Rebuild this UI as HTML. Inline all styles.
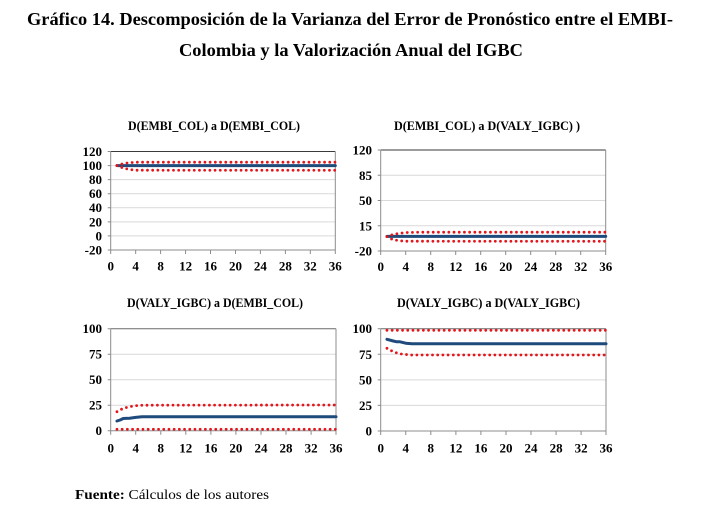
<!DOCTYPE html>
<html>
<head>
<meta charset="utf-8">
<style>
html,body{margin:0;padding:0;background:#fff;}
svg{display:block;}
text{font-family:"Liberation Serif","Times New Roman",serif;fill:#000;}
.t{font-weight:bold;font-size:18px;}
.ct{font-weight:bold;font-size:12.5px;}
.tk{font-weight:bold;font-size:13px;}
.g{stroke:#d9d9d9;stroke-width:1;fill:none;}
.ax{stroke:#8c8c8c;stroke-width:1;fill:none;}
.b{stroke:#1f4a7c;stroke-width:3;fill:none;stroke-linejoin:round;stroke-linecap:round;}
.r{stroke:#e3161c;stroke-width:2.8;fill:none;stroke-dasharray:0 5.2;stroke-linecap:round;}
</style>
</head>
<body>
<svg width="704" height="521" viewBox="0 0 704 521" xmlns="http://www.w3.org/2000/svg">
<!-- Title -->
<text class="t" x="350" y="25" text-anchor="middle" textLength="646" lengthAdjust="spacingAndGlyphs">Gráfico 14. Descomposición de la Varianza del Error de Pronóstico entre el EMBI-</text>
<text class="t" x="351" y="56" text-anchor="middle" textLength="344" lengthAdjust="spacingAndGlyphs">Colombia y la Valorización Anual del IGBC</text>

<!-- ================= Chart 1 ================= -->
<text class="ct" x="128" y="130" textLength="172" lengthAdjust="spacingAndGlyphs">D(EMBI_COL) a D(EMBI_COL)</text>
<g>
<path class="g" d="M110.7 235.93H335.3M110.7 221.86H335.3M110.7 207.79H335.3M110.7 193.71H335.3M110.7 179.64H335.3M110.7 165.57H335.3"/>
<path d="M110.7 151.5H335.3" stroke="#3a3a3a" stroke-width="1"/>
<path class="ax" d="M335.3 151.5V250"/>
<path class="ax" d="M110.7 151.5V250H335.3"/>
<path class="ax" d="M107.7 250H110.7M107.7 235.93H110.7M107.7 221.86H110.7M107.7 207.79H110.7M107.7 193.71H110.7M107.7 179.64H110.7M107.7 165.57H110.7M107.7 151.5H110.7"/>
<path class="ax" d="M110.7 250v4M135.66 250v4M160.6 250v4M185.57 250v4M210.5 250v4M235.5 250v4M260.4 250v4M285.4 250v4M310.3 250v4M335.3 250v4"/>
<g class="tk" text-anchor="end">
<text x="102" y="156">120</text><text x="102" y="170">100</text><text x="102" y="184">80</text><text x="102" y="198.1">60</text><text x="102" y="212.2">40</text><text x="102" y="226.3">20</text><text x="102" y="240.4">0</text><text x="102" y="254.5">-20</text>
</g>
<g class="tk" text-anchor="middle">
<text x="110.7" y="270.5">0</text><text x="135.66" y="270.5">4</text><text x="160.6" y="270.5">8</text><text x="185.57" y="270.5">12</text><text x="210.5" y="270.5">16</text><text x="235.5" y="270.5">20</text><text x="260.4" y="270.5">24</text><text x="285.4" y="270.5">28</text><text x="310.3" y="270.5">32</text><text x="335.3" y="270.5">36</text>
</g>
<polyline class="b" points="116.94,165.57 335.3,165.57"/>
<polyline class="r" points="116.94,165.57 123.18,163.6 129.42,162.7 135.66,162.2 335.3,162.2"/>
<polyline class="r" points="116.94,165.57 123.18,168 129.42,169.5 135.66,170.2 335.3,170.3"/>
</g>

<!-- ================= Chart 2 ================= -->
<text class="ct" x="394" y="130" textLength="186" lengthAdjust="spacingAndGlyphs">D(EMBI_COL) a D(VALY_IGBC) )</text>
<g>
<path class="g" d="M380.7 225.75H605.7M380.7 200.5H605.7M380.7 175.25H605.7"/>
<path d="M380.7 150H605.7" stroke="#3a3a3a" stroke-width="1"/>
<path class="ax" d="M605.7 150V251"/>
<path class="ax" d="M380.7 150V251H605.7"/>
<path class="ax" d="M377.7 251H380.7M377.7 225.75H380.7M377.7 200.5H380.7M377.7 175.25H380.7M377.7 150H380.7"/>
<path class="ax" d="M380.7 251v4M405.7 251v4M430.7 251v4M455.7 251v4M480.7 251v4M505.7 251v4M530.7 251v4M555.7 251v4M580.7 251v4M605.7 251v4"/>
<g class="tk" text-anchor="end">
<text x="372" y="154.5">120</text><text x="372" y="179.8">85</text><text x="372" y="205">50</text><text x="372" y="230.3">15</text><text x="372" y="255.5">-20</text>
</g>
<g class="tk" text-anchor="middle">
<text x="380.7" y="271">0</text><text x="405.7" y="271">4</text><text x="430.7" y="271">8</text><text x="455.7" y="271">12</text><text x="480.7" y="271">16</text><text x="505.7" y="271">20</text><text x="530.7" y="271">24</text><text x="555.7" y="271">28</text><text x="580.7" y="271">32</text><text x="605.7" y="271">36</text>
</g>
<polyline class="b" points="386.95,236.4 605.7,236.4"/>
<polyline class="r" points="386.95,236.6 393.2,234.4 399.45,233.3 405.7,232.6 418.2,232.2 605.7,232.2"/>
<polyline class="r" points="386.95,236.6 393.2,239.8 399.45,240.7 405.7,241.2 605.7,241.3"/>
</g>

<!-- ================= Chart 3 ================= -->
<text class="ct" x="127" y="307" textLength="176" lengthAdjust="spacingAndGlyphs">D(VALY_IGBC) a D(EMBI_COL)</text>
<g>
<path class="g" d="M110.7 405.2H336M110.7 379.7H336M110.7 354.2H336"/>
<path d="M110.7 328.7H336" stroke="#6a6a6a" stroke-width="1"/>
<path class="ax" d="M336 328.7V430.7"/>
<path class="ax" d="M110.7 328.7V430.7H336"/>
<path class="ax" d="M107.7 430.7H110.7M107.7 405.2H110.7M107.7 379.7H110.7M107.7 354.2H110.7M107.7 328.7H110.7"/>
<path class="ax" d="M110.7 430.7v4M135.7 430.7v4M160.8 430.7v4M185.8 430.7v4M210.9 430.7v4M235.9 430.7v4M261 430.7v4M286 430.7v4M311.1 430.7v4M336 430.7v4"/>
<g class="tk" text-anchor="end">
<text x="102" y="333.2">100</text><text x="102" y="358.7">75</text><text x="102" y="384.2">50</text><text x="102" y="409.7">25</text><text x="102" y="435.2">0</text>
</g>
<g class="tk" text-anchor="middle">
<text x="110.7" y="452.5">0</text><text x="135.7" y="452.5">4</text><text x="160.8" y="452.5">8</text><text x="185.8" y="452.5">12</text><text x="210.9" y="452.5">16</text><text x="235.9" y="452.5">20</text><text x="261" y="452.5">24</text><text x="286" y="452.5">28</text><text x="311.1" y="452.5">32</text><text x="336" y="452.5">36</text>
</g>
<polyline class="b" points="116.96,421 120.1,420 123.2,418.5 129.5,418.2 135.7,417.4 142,416.7 336,416.7"/>
<polyline class="r" points="116.96,411.7 123.2,408.3 129.5,406.7 135.7,405.7 142,405.2 336,405"/>
<polyline class="r" points="116.96,429.3 336,429.3"/>
</g>

<!-- ================= Chart 4 ================= -->
<text class="ct" x="397" y="307" textLength="183" lengthAdjust="spacingAndGlyphs">D(VALY_IGBC) a D(VALY_IGBC)</text>
<g>
<path class="g" d="M380.7 405.4H606M380.7 379.85H606M380.7 354.3H606"/>
<path d="M380.7 328.7H606" stroke="#6a6a6a" stroke-width="1"/>
<path class="ax" d="M606 328.7V431"/>
<path class="ax" d="M380.7 328.7V431H606"/>
<path class="ax" d="M377.7 431H380.7M377.7 405.4H380.7M377.7 379.85H380.7M377.7 354.3H380.7M377.7 328.7H380.7"/>
<path class="ax" d="M380.7 431v4M405.76 431v4M430.8 431v4M455.9 431v4M480.9 431v4M506 431v4M531 431v4M556.1 431v4M581.1 431v4M606 431v4"/>
<g class="tk" text-anchor="end">
<text x="372" y="333.2">100</text><text x="372" y="358.8">75</text><text x="372" y="384.4">50</text><text x="372" y="409.9">25</text><text x="372" y="435.5">0</text>
</g>
<g class="tk" text-anchor="middle">
<text x="380.7" y="452.5">0</text><text x="405.76" y="452.5">4</text><text x="430.8" y="452.5">8</text><text x="455.9" y="452.5">12</text><text x="480.9" y="452.5">16</text><text x="506" y="452.5">20</text><text x="531" y="452.5">24</text><text x="556.1" y="452.5">28</text><text x="581.1" y="452.5">32</text><text x="606" y="452.5">36</text>
</g>
<polyline class="b" points="386.96,339.3 393.2,341 396.3,341.7 399.5,341.7 405.76,343.2 412,343.7 606,343.7"/>
<polyline class="r" points="386.96,330.3 606,330.3"/>
<polyline class="r" points="386.96,348.3 393.2,351.7 399.5,353.8 405.76,354.5 412,355 606,355"/>
</g>

<!-- Footer -->
<text x="75" y="499" font-size="14" textLength="194" lengthAdjust="spacingAndGlyphs"><tspan font-weight="bold">Fuente:</tspan> Cálculos de los autores</text>
</svg>
</body>
</html>
